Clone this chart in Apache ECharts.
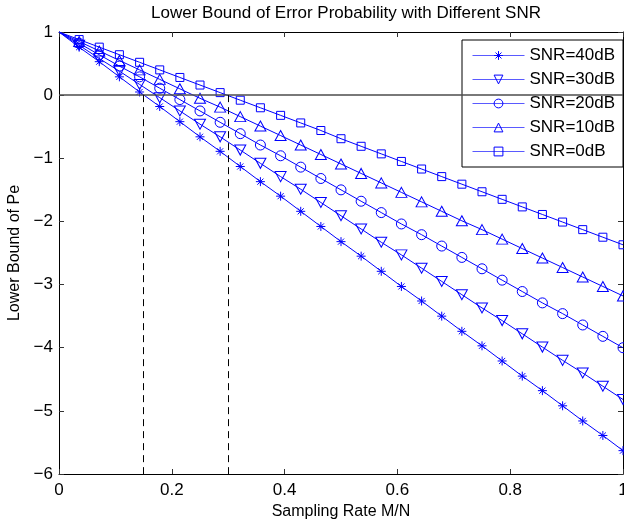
<!DOCTYPE html>
<html><head><meta charset="utf-8">
<script src="https://cdn.jsdelivr.net/npm/echarts@6/dist/echarts.min.js"></script>
<style>html,body{margin:0;padding:0;background:#fff}#c{width:624px;height:525px}</style>
</head><body><div id="c"></div>
<script>
// Sampling rate M/N (x values)
const samplingRate = [0, 0.0357, 0.0714, 0.1071, 0.1429, 0.1786, 0.2143, 0.25, 0.2857, 0.3214, 0.3571, 0.3929, 0.4286, 0.4643, 0.5, 0.5357, 0.5714, 0.6071, 0.6429, 0.6786, 0.7143, 0.75, 0.7857, 0.8214, 0.8571, 0.8929, 0.9286, 0.9643, 1];
// Lower bound of Pe per SNR
const snr40 = [1, 0.76, 0.53, 0.29, 0.05, -0.18, -0.42, -0.66, -0.89, -1.13, -1.37, -1.6, -1.84, -2.08, -2.32, -2.55, -2.79, -3.03, -3.26, -3.5, -3.74, -3.97, -4.21, -4.45, -4.68, -4.92, -5.16, -5.39, -5.63];
const snr30 = [1, 0.79, 0.58, 0.38, 0.17, -0.04, -0.25, -0.46, -0.66, -0.87, -1.08, -1.29, -1.49, -1.7, -1.91, -2.12, -2.33, -2.53, -2.74, -2.95, -3.16, -3.37, -3.57, -3.78, -3.99, -4.2, -4.4, -4.61, -4.82];
const snr20 = [1, 0.82, 0.64, 0.46, 0.29, 0.11, -0.07, -0.25, -0.43, -0.61, -0.79, -0.96, -1.14, -1.32, -1.5, -1.68, -1.86, -2.04, -2.21, -2.39, -2.57, -2.75, -2.93, -3.11, -3.29, -3.46, -3.64, -3.82, -4];
const snr10 = [1, 0.85, 0.7, 0.55, 0.4, 0.25, 0.1, -0.05, -0.19, -0.34, -0.49, -0.64, -0.79, -0.94, -1.09, -1.24, -1.39, -1.54, -1.69, -1.84, -1.99, -2.13, -2.28, -2.43, -2.58, -2.73, -2.88, -3.03, -3.18];
const snr0 = [1, 0.88, 0.76, 0.64, 0.52, 0.4, 0.28, 0.16, 0.04, -0.08, -0.2, -0.32, -0.44, -0.56, -0.69, -0.81, -0.93, -1.05, -1.17, -1.29, -1.41, -1.53, -1.65, -1.77, -1.89, -2.01, -2.13, -2.25, -2.37];
const seriesNames = ['SNR=40dB', 'SNR=30dB', 'SNR=20dB', 'SNR=10dB', 'SNR=0dB'];
const seriesValues = [snr40, snr30, snr20, snr10, snr0];
// reference lines
const zeroLevel = 0;
const crossingX = [0.15, 0.3];
const xRange = [0, 1, 0.2];
const yRange = [-6, 1, 1];

const FONT = 'Liberation Sans, Arial, Helvetica, sans-serif';
const BLUE = '#0000ff';
const symbols = [
  {symbol: 'path://M5,0L5,10M0,5L10,5M1.6,1.6L8.4,8.4M1.6,8.4L8.4,1.6', size: [9, 9]},
  {symbol: 'path://M0,0L10,0L5,8.66Z', size: [11, 10]},
  {symbol: 'circle', size: 10},
  {symbol: 'triangle', size: [11, 10]},
  {symbol: 'rect', size: 8}
];
const minusFmt = v => String(v).replace('-', '\u2212');

const series = seriesValues.map((vals, si) => ({
  name: seriesNames[si],
  type: 'line',
  xAxisIndex: 0, yAxisIndex: 0,
  symbol: symbols[si].symbol,
  symbolSize: symbols[si].size,
  showAllSymbol: true,
  animation: false,
  color: BLUE,
  lineStyle: {color: BLUE, width: 1},
  itemStyle: {color: 'rgba(0,0,0,0)', borderColor: BLUE, borderWidth: 1},
  emphasis: {disabled: true},
  data: samplingRate.map((x, i) => i === 0 ? {value: [x, vals[i]], symbol: 'none'} : [x, vals[i]])
}));

series.push({
  type: 'line', name: '_ref', xAxisIndex: 0, yAxisIndex: 0, data: [], animation: false,
  markLine: {
    silent: true, symbol: ['none', 'none'], animation: false,
    label: {show: false},
    data: [
      [{coord: [xRange[0], zeroLevel], lineStyle: {color: '#4d4d4d', width: 1.5, type: 'solid'}}, {coord: [xRange[1], zeroLevel]}],
      ...crossingX.map(cx => [{coord: [cx, zeroLevel], lineStyle: {color: '#000', width: 1, type: [7, 5]}}, {coord: [cx, yRange[0]]}])
    ]
  }
});

const tickStyle = {show: true, inside: true, length: 5, lineStyle: {color: '#333', width: 1}};
const lineAxis = {show: true, onZero: false, lineStyle: {color: '#000', width: 1}};

const option = {
  backgroundColor: '#fff',
  animation: false,
  title: {
    text: 'Lower Bound of Error Probability with Different SNR',
    left: 341, top: 0, textAlign: 'center',
    textStyle: {fontFamily: FONT, fontSize: 17, fontWeight: 'normal', color: '#000'}
  },
  legend: {
    data: seriesNames,
    orient: 'vertical',
    left: 462, top: 40,
    itemWidth: 52, itemHeight: 11, itemGap: 7,
    padding: [7, 8, 7, 10],
    borderColor: '#000', borderWidth: 1, backgroundColor: '#fff',
    lineStyle: {width: 1, color: '#5a5aff'},
    itemStyle: {borderWidth: 1, borderColor: BLUE},
    textStyle: {fontFamily: FONT, fontSize: 17, color: '#000', lineHeight: 17},
    selectedMode: false
  },
  grid: {left: 59, right: 1, top: 32, bottom: 51, containLabel: false, outerBoundsMode: 'none'},
  xAxis: [{
    type: 'value', position: 'bottom', min: xRange[0], max: xRange[1], interval: xRange[2],
    name: 'Sampling Rate M/N', nameLocation: 'middle', nameGap: 30,
    nameTextStyle: {fontFamily: FONT, fontSize: 16, color: '#000'},
    axisLine: lineAxis, axisTick: tickStyle, splitLine: {show: false},
    axisLabel: {fontFamily: FONT, fontSize: 17, color: '#000', margin: 8, formatter: minusFmt}
  }, {
    type: 'value', position: 'top', min: xRange[0], max: xRange[1], interval: xRange[2],
    axisLine: lineAxis, axisTick: tickStyle, splitLine: {show: false}, axisLabel: {show: false}
  }],
  yAxis: [{
    type: 'value', position: 'left', min: yRange[0], max: yRange[1], interval: yRange[2],
    name: 'Lower Bound of Pe', nameLocation: 'middle', nameGap: 31, nameRotate: 90,
    nameTextStyle: {fontFamily: FONT, fontSize: 16, color: '#000'},
    axisLine: lineAxis, axisTick: tickStyle, splitLine: {show: false},
    axisLabel: {fontFamily: FONT, fontSize: 17, color: '#000', margin: 6, formatter: minusFmt}
  }, {
    type: 'value', position: 'right', min: yRange[0], max: yRange[1], interval: yRange[2],
    axisLine: lineAxis, axisTick: tickStyle, splitLine: {show: false}, axisLabel: {show: false}
  }],
  series: series
};
const chart = echarts.init(document.getElementById('c'), null, {renderer: 'canvas'});
chart.setOption(option);
</script></body></html>
